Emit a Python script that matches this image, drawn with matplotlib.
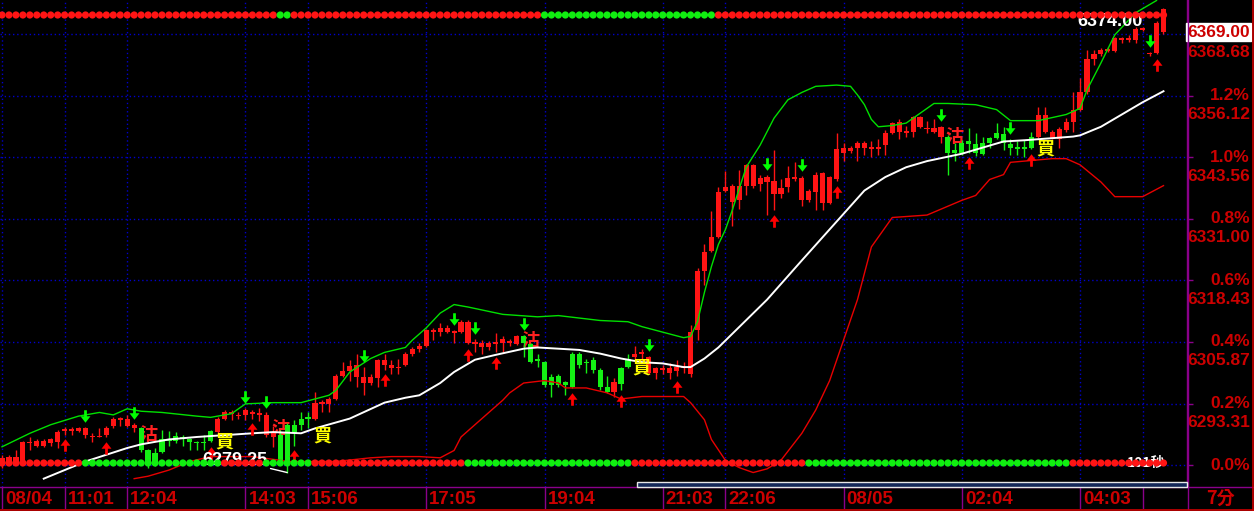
import matplotlib
matplotlib.use('Agg')
import matplotlib.pyplot as plt
import numpy as np
from matplotlib.path import Path
from matplotlib import transforms as mtrans
from matplotlib.lines import Line2D
from matplotlib.patches import Rectangle

plt.rcParams['font.family'] = ['Liberation Sans', 'Noto Sans CJK TC', 'DejaVu Sans']

# ---------------- data ----------------
opens = [6280.75,6281.5,6281.5,6281.5,6285.25,6284.75,6284.75,6285.25,6285.5,6287.75,
         6287.75,6287.75,6287.0,6286.5,6286.5,6287.0,6288.75,6290.0,6288.75,6288.25,
         6288.25,6283.75,6283.25,6286.0,6286.0,6286.75,6286.5,6286.0,6285.5,6285.5,
         6287.75,6287.5,6290.25,6291.25,6290.75,6291.0,6291.25,6291.0,6287.0,6286.5,
         6287.0,6289.0,6289.0,6290.25,6290.5,6290.25,6293.25,6293.25,6294.25,6299.0,
         6300.0,6298.75,6297.5,6297.5,6298.5,6301.25,6300.5,6300.5,6301.25,6303.5,
         6304.5,6305.0,6308.0,6308.0,6308.0,6307.75,6308.0,6305.75,6305.5,6304.75,
         6304.75,6305.5,6305.75,6305.75,6305.5,6307.0,6305.5,6302.25,6301.75,6298.75,
         6299.0,6297.75,6303.5,6303.5,6301.75,6302.25,6300.25,6296.75,6295.75,6300.5,
         6302.5,6302.75,6303.5,6299.5,6299.5,6300.25,6299.5,6300.0,6300.5,6299.25,
         6308.25,6320.25,6324.5,6327.25,6336.75,6334.5,6334.75,6337.75,6337.75,6338.0,
         6338.5,6336.0,6336.0,6337.5,6339.0,6334.75,6334.75,6336.5,6334.25,6334.25,
         6339.0,6344.5,6344.75,6345.5,6345.5,6345.25,6345.25,6346.0,6348.5,6348.75,
         6348.5,6348.75,6349.75,6349.25,6348.75,6347.75,6347.75,6345.0,6346.5,6346.75,
         6346.25,6346.5,6347.5,6348.5,6348.25,6346.25,6345.5,6345.5,6347.75,6347.75,
         6348.75,6347.5,6347.25,6349.0,6350.75,6353.25,6356.75,6363.5,6364.5,6365.25,
         6365.25,6367.5,6367.5,6367.5,6369.5,6364.5,6364.75,6369.0]
highs = [6282.75,6282.75,6283.75,6285.75,6286.5,6286.0,6286.0,6286.25,6288.0,6288.5,
         6288.5,6288.5,6288.5,6287.25,6288.25,6288.75,6290.5,6290.5,6291.0,6289.25,
         6288.5,6284.0,6284.25,6288.0,6287.75,6287.5,6287.0,6286.25,6285.75,6287.0,
         6288.0,6290.5,6292.0,6292.0,6291.5,6292.5,6292.0,6292.5,6291.5,6288.75,
         6288.0,6289.25,6290.0,6291.5,6291.5,6295.75,6294.0,6294.75,6299.25,6301.75,
         6302.25,6303.5,6300.75,6299.25,6302.5,6303.5,6302.25,6302.5,6303.75,6304.75,
         6305.75,6308.5,6308.75,6309.75,6309.25,6308.25,6310.25,6310.25,6306.5,6306.25,
         6306.0,6307.75,6307.0,6306.5,6307.25,6307.25,6305.75,6303.5,6302.0,6299.25,
         6299.25,6298.0,6303.75,6303.75,6302.5,6302.75,6300.5,6299.0,6298.5,6300.75,
         6303.5,6305.0,6304.5,6303.0,6300.75,6301.25,6301.5,6302.25,6301.75,6309.25,
         6321.0,6325.75,6332.5,6337.5,6340.75,6338.0,6341.0,6342.25,6342.25,6340.0,
         6340.0,6345.0,6339.0,6341.75,6342.5,6339.75,6337.0,6340.5,6340.5,6339.75,
         6348.5,6346.5,6345.75,6346.75,6346.75,6346.75,6347.25,6349.0,6350.75,6351.25,
         6350.0,6352.0,6352.0,6351.0,6351.25,6350.0,6348.0,6346.5,6347.0,6349.5,
         6348.5,6347.75,6347.75,6350.5,6349.75,6347.25,6346.75,6347.0,6348.75,6353.75,
         6353.75,6349.0,6349.75,6351.5,6356.75,6359.75,6365.5,6365.5,6365.75,6366.0,
         6368.0,6368.0,6368.5,6370.0,6370.0,6365.0,6371.25,6374.0]
lows = [6280.25,6281.0,6281.25,6281.25,6283.75,6284.5,6284.5,6284.75,6284.25,6287.0,
        6287.0,6287.5,6286.25,6285.5,6286.5,6286.5,6288.25,6288.75,6288.5,6287.5,
        6283.5,6280.25,6280.5,6283.25,6284.75,6285.25,6284.75,6283.75,6283.75,6283.75,
        6285.5,6287.25,6290.0,6290.0,6290.25,6290.0,6290.25,6289.75,6286.5,6284.5,
        6280.75,6279.25,6284.75,6288.0,6288.25,6290.0,6291.5,6291.5,6294.0,6298.75,
        6298.0,6296.75,6295.0,6297.0,6296.75,6300.25,6299.25,6299.25,6301.0,6303.0,
        6303.75,6304.75,6306.25,6307.0,6307.75,6305.75,6307.75,6305.5,6303.75,6303.5,
        6304.25,6303.75,6303.75,6305.0,6305.25,6302.75,6301.5,6300.75,6296.75,6294.75,
        6296.75,6295.0,6296.5,6300.5,6299.5,6299.5,6296.0,6295.5,6294.75,6296.0,
        6300.5,6302.5,6302.25,6299.25,6298.25,6299.25,6298.25,6299.0,6299.5,6298.75,
        6306.25,6317.5,6324.25,6327.0,6336.5,6329.5,6333.0,6335.75,6337.25,6336.75,
        6331.75,6332.75,6335.25,6336.5,6338.75,6333.5,6334.5,6332.75,6332.75,6334.0,
        6338.75,6342.75,6344.5,6342.75,6344.0,6343.5,6344.0,6344.0,6348.25,6347.25,
        6347.75,6347.75,6349.5,6348.5,6348.5,6346.5,6340.0,6342.75,6344.0,6344.5,
        6343.75,6344.0,6345.5,6347.25,6345.0,6344.0,6344.0,6343.5,6345.25,6347.5,
        6348.5,6347.25,6345.5,6348.75,6348.75,6353.0,6356.5,6362.25,6364.25,6365.0,
        6365.0,6366.75,6367.0,6366.75,6369.25,6364.25,6364.5,6368.75]
closes = [6282.25,6282.5,6282.5,6285.5,6285.5,6285.75,6285.75,6286.0,6287.5,6288.0,
          6288.0,6288.25,6288.25,6286.75,6286.75,6288.25,6290.25,6290.25,6290.25,6289.0,
          6283.75,6281.5,6281.5,6283.5,6285.75,6285.75,6286.0,6285.5,6285.25,6285.25,
          6285.75,6290.25,6291.5,6291.5,6291.0,6292.0,6291.5,6291.25,6291.0,6287.25,
          6281.5,6281.5,6287.25,6289.0,6290.25,6293.5,6293.5,6294.25,6299.0,6300.0,
          6301.0,6301.25,6298.75,6298.75,6302.25,6302.25,6301.25,6300.75,6303.5,6304.5,
          6305.0,6308.25,6308.25,6308.75,6308.75,6308.0,6310.0,6310.0,6305.75,6305.75,
          6305.75,6305.75,6306.5,6306.0,6307.0,6305.75,6301.75,6302.0,6297.0,6297.0,
          6297.0,6297.0,6296.75,6301.25,6301.5,6300.25,6296.75,6295.75,6297.75,6297.25,
          6300.75,6303.5,6303.75,6302.75,6300.5,6300.5,6300.5,6300.75,6300.75,6308.0,
          6320.25,6324.25,6327.25,6336.5,6337.5,6337.75,6337.75,6342.0,6342.0,6339.25,
          6339.5,6338.75,6337.25,6339.25,6339.5,6339.25,6336.75,6340.0,6340.25,6339.5,
          6345.25,6345.5,6345.5,6346.5,6346.5,6345.5,6345.5,6348.5,6350.5,6350.75,
          6348.75,6351.75,6351.75,6349.5,6349.5,6349.75,6344.5,6344.5,6344.5,6346.25,
          6344.5,6344.25,6346.5,6347.5,6346.5,6345.5,6345.25,6345.25,6345.5,6352.25,
          6352.25,6348.75,6349.25,6350.75,6353.25,6356.75,6363.5,6364.5,6365.5,6365.5,
          6367.75,6367.75,6367.75,6369.75,6369.75,6364.75,6371.0,6373.75]

upper_idx = [0,4,7,11,14,16,18,20,23,28,30,33,35,39,43,45,47,48,50,53,
             55,58,59,61,63,65,67,72,77,80,83,86,90,92,94,96,98,99,100,101,
             102,103,104,105,107,109,111,113,115,117,120,122,123,124,125,126,128,130,132,134,
             136,140,143,145,149,153,155,156,158,160,163,166]
upper_val = [6284.5,6287.25,6289.0,6290.75,6291.5,6291.0,6292.25,6291.75,6291.5,6290.75,
             6290.5,6291.25,6293.25,6293.5,6293.5,6294.25,6295.0,6296.0,6299.75,6302.5,
             6303.75,6304.75,6306.25,6308.75,6311.75,6313.5,6313.0,6311.5,6311.0,6311.25,
             6310.75,6310.25,6310.0,6309.0,6308.25,6307.5,6306.75,6307.0,6310.0,6316.0,
             6321.25,6325.75,6328.75,6332.75,6341.5,6346.0,6351.5,6355.25,6356.75,6358.0,
             6358.25,6358.0,6356.25,6354.25,6351.25,6349.75,6350.0,6350.5,6352.5,6354.5,
             6354.5,6354.25,6353.25,6351.0,6351.0,6352.25,6353.5,6357.25,6362.75,6368.5,
             6373.0,6375.5]
mid_idx = [6,12,18,20,24,28,36,39,43,45,50,55,58,60,63,65,68,71,75,77,
           80,83,86,89,92,95,98,99,101,103,110,115,121,124,127,130,133,138,144,147,
           154,155,158,161,164,167]
mid_val = [6278.0,6281.5,6284.25,6285.0,6286.0,6286.5,6287.25,6287.5,6287.25,6288.25,
           6290.25,6293.5,6294.5,6295.0,6297.5,6299.75,6302.25,6303.25,6304.5,6304.75,
           6304.5,6304.25,6303.5,6302.5,6301.75,6301.5,6300.75,6300.75,6302.5,6304.75,
           6314.5,6322.5,6332.0,6336.75,6339.5,6341.5,6342.75,6344.25,6346.75,6347.0,
           6347.75,6348.0,6349.75,6352.25,6354.75,6357.0]
lower_idx = [19,21,24,27,30,32,36,40,41,48,53,56,60,63,65,66,70,72,73,75,
             78,80,81,84,87,89,92,96,98,99,101,102,104,106,108,110,112,115,117,119,
             123,125,128,133,138,140,142,144,145,147,151,153,155,158,160,164,167]
lower_val = [6278.0,6278.5,6279.75,6281.5,6282.5,6282.5,6282.5,6281.75,6281.5,6281.5,
             6282.25,6282.5,6282.5,6282.25,6283.75,6286.5,6291.5,6294.0,6295.5,6297.5,
             6298.0,6297.5,6296.5,6296.5,6295.5,6294.25,6294.75,6294.75,6294.75,6293.5,
             6290.0,6286.0,6281.75,6280.25,6279.25,6280.0,6281.75,6287.25,6292.0,6298.0,
             6314.5,6325.25,6331.25,6331.75,6334.75,6335.75,6339.0,6340.0,6342.5,6342.75,
             6343.25,6343.25,6342.0,6338.5,6335.5,6335.5,6337.75]

top_runs = [('R', 40), ('G', 2), ('R', 36), ('G', 25), ('R', 65)]
bottom_runs = [('R', 12), ('G', 20), ('R', 6), ('G', 7), ('R', 22), ('G', 24),
               ('R', 25), ('G', 38), ('R', 14)]

down_arrow_idx = [12, 19, 35, 38, 52, 65, 68, 75, 93, 110, 115, 135, 145, 165]
up_arrow_idx = [9, 15, 30, 36, 42, 55, 67, 71, 82, 89, 97, 111, 120, 139, 148, 166]

buy_idx = [32, 46, 92, 150]
buy_level = [6285.5, 6286.75, 6300.5, 6345.25]
sell_idx = [21, 40, 76, 137]
sell_level = [6287.0, 6288.25, 6306.25, 6347.75]

time_idx = [0, 9, 18, 35, 44, 61, 78, 95, 104, 121, 138, 155, 164]
time_labels = ['08/04', '11:01', '12:04', '14:03', '15:06', '17:05', '19:04',
               '21:03', '22:06', '08/05', '02:04', '04:03', '']

prev_close = 6280.75
pct_levels = [0.0, 0.2, 0.4, 0.6, 0.8, 1.0, 1.2, 1.4]
last_price = 6369.00
countdown = '101秒'
period_label = '7分'

# ---------------- style ----------------
W, H = 1254, 511
RED = '#ff1414'
GREEN = '#14f014'
GRID = '#0000cc'
PURPLE = '#8a008a'
LAB = '#cc0000'
CJK = ['Noto Sans CJK TC', 'DejaVu Sans']

fig = plt.figure(figsize=(W / 100, H / 100), dpi=100, facecolor='black')
ax = fig.add_axes([0, 24 / H, 1187 / W, 487 / H])
ax.set_facecolor('black')
ax.set_xlim(-0.29, 170.38)
ax.set_ylim(6276.3, 6375.6)

n = len(closes)
x = np.arange(n)
o = np.array(opens); c = np.array(closes); hi = np.array(highs); lo = np.array(lows)
cols = [RED if cc >= oo else GREEN for oo, cc in zip(o, c)]

levels = [prev_close * (1 + p / 100) for p in pct_levels]
for lv in levels:
    ax.axhline(lv, color=GRID, ls=(0, (1, 2)), lw=1, zorder=1)
for i in time_idx:
    ax.axvline(i, color=GRID, ls=(0, (1, 2)), lw=1, zorder=1)

# sell signals (behind candles)
for i, lv in zip(sell_idx, sell_level):
    ax.text(i, lv, '沽', color='#ff2020', fontsize=13, fontweight='bold',
            family=CJK, ha='center', va='center', zorder=2)

# candles
ax.vlines(x, lo, hi, colors=cols, lw=1, zorder=3)
bottom = np.minimum(o, c)
height = np.maximum(np.abs(c - o), 0.3)
ax.bar(x, height, bottom=bottom, width=0.74, color=cols, lw=0, zorder=4)

# bands
ax.plot(upper_idx, upper_val, color='#00e000', lw=1, zorder=5)
ax.plot(mid_idx, mid_val, color='white', lw=1.4, zorder=5)
ax.plot(lower_idx, lower_val, color='#e80000', lw=1, zorder=5)

# arrows
down_path = Path([(-0.11, 0.5), (0.11, 0.5), (0.11, 0.02), (0.4, 0.02), (0, -0.5),
                  (-0.4, 0.02), (-0.11, 0.02), (-0.11, 0.5)], closed=True)
up_path = Path([(-0.11, -0.5), (0.11, -0.5), (0.11, -0.02), (0.4, -0.02), (0, 0.5),
                (-0.4, -0.02), (-0.11, -0.02), (-0.11, -0.5)], closed=True)
tr_dn = ax.transData + mtrans.ScaledTranslation(0, 7.8 / 72, fig.dpi_scale_trans)
tr_up = ax.transData + mtrans.ScaledTranslation(0, -7.8 / 72, fig.dpi_scale_trans)
ax.plot(down_arrow_idx, [highs[i] for i in down_arrow_idx], ls='none', marker=down_path,
        ms=9, color='#00ff00', mec='none', transform=tr_dn, zorder=6)
ax.plot(up_arrow_idx, [lows[i] for i in up_arrow_idx], ls='none', marker=up_path,
        ms=9, color='#ff0000', mec='none', transform=tr_up, zorder=6)

# buy signals
for i, lv in zip(buy_idx, buy_level):
    ax.text(i, lv, '買', color='#ffff00', fontsize=13, fontweight='bold',
            family=CJK, ha='center', va='center', zorder=7)

# extremes
imax = int(np.argmax(hi)); imin = int(np.argmin(lo))
ax.annotate(f'{highs[imax]:.2f}', xy=(imax, highs[imax]), xytext=(-15, -10),
            textcoords='offset points', ha='right', va='center', color='white',
            fontsize=13, fontweight='bold', zorder=7)
ax.annotate(f'{lows[imin]:.2f}', xy=(imin, lows[imin]), xytext=(-14, 9),
            textcoords='offset points', ha='right', va='center', color='white',
            fontsize=13, fontweight='bold', zorder=7,
            arrowprops=dict(arrowstyle='-', color='white', lw=1, shrinkA=0, shrinkB=0))

blend = mtrans.blended_transform_factory(ax.transData, ax.transAxes)
ax.text(n - 1 + 0.3, 1 - 463 / 487, countdown, transform=blend, ha='right', va='center',
        color='white', fontsize=10, fontweight='bold', family=CJK, zorder=7)

# signal dots
def expand(runs):
    out = []
    for col, k in runs:
        out += [RED if col == 'R' else '#10ee10'] * k
    return out
top_cols = expand(top_runs)
bot_cols = expand(bottom_runs)
ax.scatter(x, [1 - 15 / 487] * n, c=top_cols, s=27, marker='o', linewidths=0,
           transform=blend, zorder=8, clip_on=False)
ax.scatter(x, [1 - 463 / 487] * n, c=bot_cols, s=27, marker='o', linewidths=0,
           transform=blend, zorder=8, clip_on=False)

# right axis
ax.set_xticks([])
ax.yaxis.tick_right()
ax.set_yticks(levels)
ax.tick_params(axis='y', colors=PURPLE, length=4, width=1, labelright=False, labelleft=False)
for s in ['top', 'left', 'bottom']:
    ax.spines[s].set_visible(False)
ax.spines['right'].set_color(PURPLE)
ax.spines['right'].set_linewidth(1)

trr = mtrans.blended_transform_factory(ax.transAxes, ax.transData)
xr = 1250 / 1187
below = trr + mtrans.ScaledTranslation(0, -19 / 100, fig.dpi_scale_trans)
for p, lv in zip(pct_levels, levels):
    if abs(lv - last_price) > 1.0:
        ax.text(xr, lv, f'{p:.1f}%', transform=trr, ha='right', va='center', color=LAB,
                fontsize=12.5, fontweight='bold', clip_on=False)
    if p > 0:
        ax.text(xr, lv, f'{lv:.2f}', transform=below, ha='right', va='center', color=LAB,
                fontsize=12.5, fontweight='bold', clip_on=False)
ax.text(xr, last_price, f'{last_price:.2f}', transform=trr, ha='right', va='center',
        color=LAB, fontsize=12.5, fontweight='bold', clip_on=False, zorder=9,
        bbox=dict(boxstyle='square,pad=0.08', fc='white', ec='white'))

# scrollbar
fig.add_artist(Rectangle((637 / W, 24 / H), 550 / W, 5 / H, transform=fig.transFigure,
                         fc='#14285a', ec='#e8e8e8', lw=1, zorder=10))

# time strip
ax2 = fig.add_axes([0, 2 / H, 1187 / W, 22 / H])
ax2.set_facecolor('black')
ax2.set_xlim(ax.get_xlim())
ax2.set_ylim(0, 1)
ax2.set_xticks([]); ax2.set_yticks([])
for s in ax2.spines.values():
    s.set_visible(False)
shift = ax2.transData + mtrans.ScaledTranslation(3 / 100, 0, fig.dpi_scale_trans)
for i, lab in zip(time_idx, time_labels):
    ax2.axvline(i, color=PURPLE, lw=1)
    ax2.text(i, 0.45, lab, transform=shift, ha='left', va='center', color=LAB,
             fontsize=13.5, fontweight='bold')

fig.text(1220 / W, 13 / H, period_label, ha='center', va='center', color=LAB,
         fontsize=13, fontweight='bold', family=CJK)

fig.add_artist(Line2D([0, 1], [24.5 / H, 24.5 / H], transform=fig.transFigure, color=PURPLE, lw=1))
fig.add_artist(Line2D([1187.5 / W, 1187.5 / W], [2 / H, 1], transform=fig.transFigure, color=PURPLE, lw=1))
fig.add_artist(Line2D([0, 1], [1.5 / H, 1.5 / H], transform=fig.transFigure, color=LAB, lw=1.2))
fig.add_artist(Line2D([1252.5 / W, 1252.5 / W], [0, 1], transform=fig.transFigure, color=LAB, lw=1.2))

fig.savefig('out.png', dpi=100, facecolor='black')
